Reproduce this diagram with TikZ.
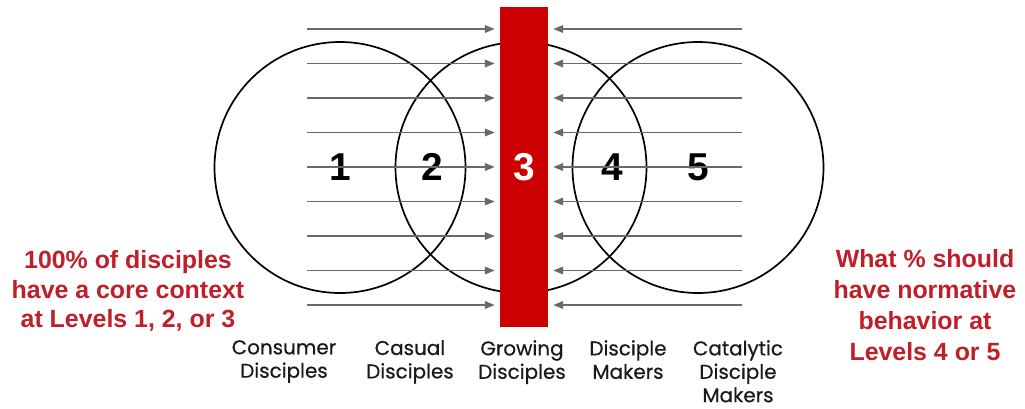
\documentclass[tikz,border=0pt]{standalone}
\usepackage{fontspec}
\setmainfont{Liberation Sans}
\newfontfamily\labelfont[FakeBold=0.5]{Poppins}
\usetikzlibrary{arrows.meta}
\definecolor{barred}{RGB}{204,0,0}
\definecolor{notered}{RGB}{192,30,40}
\definecolor{arrowgray}{RGB}{105,105,105}
\tikzset{
  ring/.style={circle, draw, line width=1.7bp, minimum size=251bp, inner sep=0pt},
  digit/.style={font=\fontsize{39}{39}\selectfont\bfseries},
  flow/.style={-{Triangle[length=10bp, width=7.5bp]}, arrowgray, line width=1.9bp},
  note/.style={text=notered, align=center, font=\fontsize{25}{30}\selectfont\bfseries},
  grouplabel/.style={align=center, anchor=north, inner sep=0pt, text=black!90,
    font=\labelfont\fontsize{20}{23.5}\selectfont},
}

\begin{document}
\begin{tikzpicture}[x=1bp, y=-1bp]

  \useasboundingbox (0,0) rectangle (1025,408);

  % Circles
  \node[ring, digit] (c1) at (340,167.5) {1};
  \node[ring] (c2) at (521,167.5) {};
  \node[ring, digit] (c3) at (698,167.5) {5};
  \node[digit] (n2) at (432,167) {2};
  \node[digit] (n4) at (612,167) {4};

  % Level 3 bar
  \node[fill=barred, minimum width=48bp, minimum height=320bp, inner sep=0pt,
        digit, text=white] (bar) at (524,167) {3};

  % Arrows pushing towards level 3
  \foreach \i in {0,...,8} {
    \coordinate (l\i) at (307,29+34.5*\i);
    \coordinate (r\i) at (742,29+34.5*\i);
    \draw[flow, shorten >=5bp] (l\i) -- (l\i -| bar.west);
    \draw[flow, shorten >=5bp] (r\i) -- (r\i -| bar.east);
  }

  % Notes
  \node[note] (left note) at (128,291) {100\% of disciples\\have a core context\\at Levels 1, 2, or 3};
  \node[note, font=\fontsize{25}{31}\selectfont\bfseries] (right note) at (925,305)
    {What \% should\\have normative\\behavior at\\Levels 4 or 5};

  % Group names
  \node[grouplabel] (g1) at (284,340) {Consumer\\Disciples};
  \node[grouplabel] (g2) at (410,340) {Casual\\Disciples};
  \node[grouplabel] (g3) at (522,340) {Growing\\Disciples};
  \node[grouplabel] (g4) at (628,340) {Disciple\\Makers};
  \node[grouplabel] (g5) at (738,340) {Catalytic\\Disciple\\Makers};

\end{tikzpicture}
\end{document}
